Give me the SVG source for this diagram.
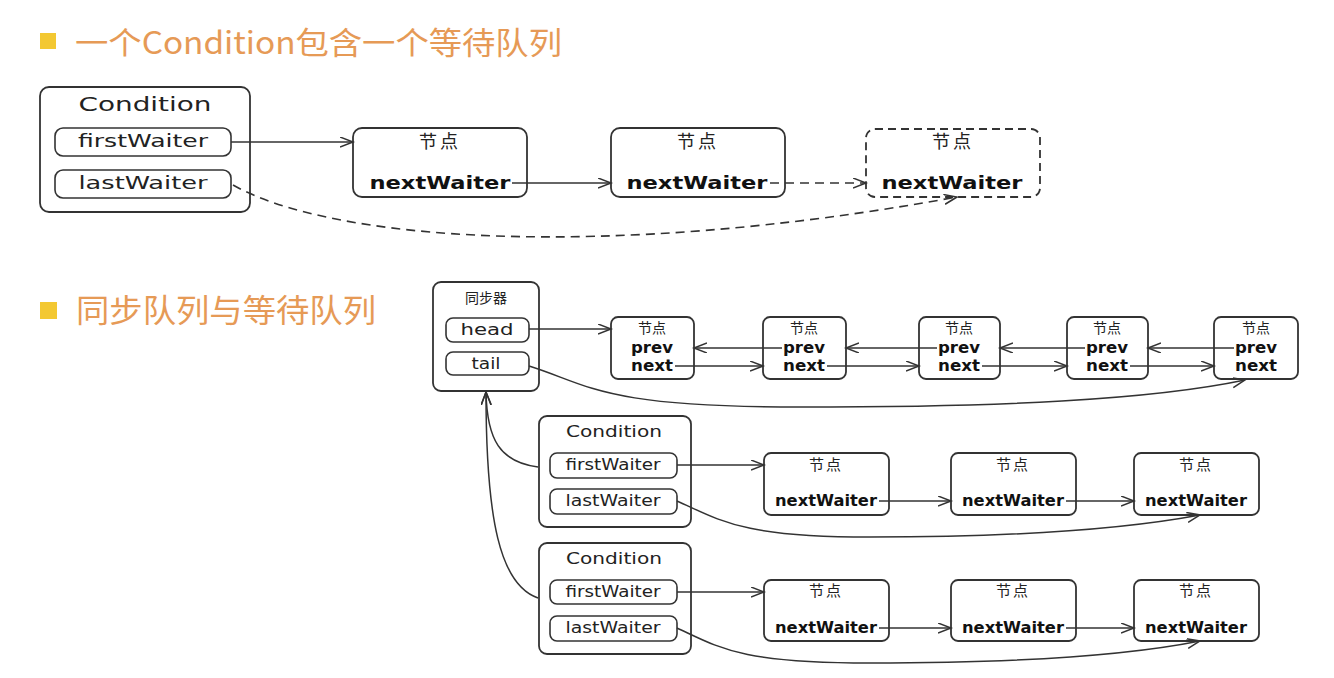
<svg xmlns="http://www.w3.org/2000/svg" width="1334" height="678" viewBox="0 0 1334 678">
<defs>
<marker id="arr" markerUnits="userSpaceOnUse" markerWidth="16" markerHeight="12" refX="13" refY="5" orient="auto">
<path d="M0,0 L13,5 L0,10" fill="none" stroke="#333" stroke-width="1.5"/>
</marker>
</defs>
<style>
.box{fill:#fff;stroke:#333;stroke-width:1.8}
.dbox{fill:#fff;stroke:#333;stroke-width:1.8;stroke-dasharray:8 5}
.pill{fill:#fff;stroke:#333;stroke-width:1.6}
.ln{fill:none;stroke:#333;stroke-width:1.5;marker-end:url(#arr)}
.dl{fill:none;stroke:#333;stroke-width:1.6;stroke-dasharray:9 6;marker-end:url(#arr)}
.t{font-family:"DejaVu Sans","Liberation Sans",sans-serif;fill:#222;text-anchor:middle}
.b{font-family:"DejaVu Sans","Liberation Sans",sans-serif;font-weight:bold;fill:#111;text-anchor:middle}
.cj{font-family:"Noto Sans CJK SC",sans-serif;fill:#222;text-anchor:middle}
.title{font-family:"Noto Sans CJK SC",sans-serif;fill:#E69A56}
</style>
<rect width="1334" height="678" fill="#fff"/>

<g id="title1">
<rect x="40" y="33" width="16" height="16" fill="#F3C832"/>
<text class="title" x="75" y="54" font-size="31" textLength="487" lengthAdjust="spacingAndGlyphs">一个Condition包含一个等待队列</text>
</g>
<g id="title2">
<rect x="40" y="302" width="17" height="17" fill="#F3C832"/>
<text class="title" x="76" y="322" font-size="32" textLength="300" lengthAdjust="spacingAndGlyphs">同步队列与等待队列</text>
</g>

<g id="condition-top">
<rect class="box" x="40" y="87" width="210" height="125" rx="9"/>
<text class="t" x="145" y="111" font-size="19" textLength="133" lengthAdjust="spacingAndGlyphs">Condition</text>
<rect class="pill" x="55" y="128" width="176" height="28" rx="8"/>
<text class="t" x="143" y="147" font-size="18" textLength="130" lengthAdjust="spacingAndGlyphs">firstWaiter</text>
<rect class="pill" x="55" y="170" width="176" height="28" rx="8"/>
<text class="t" x="143" y="189" font-size="18" textLength="129" lengthAdjust="spacingAndGlyphs">lastWaiter</text>
</g>

<g id="top-node1">
<rect class="box" x="353" y="128" width="174" height="69" rx="9"/>
<text class="cj" x="440" y="148" font-size="18" letter-spacing="3">节点</text>
<text class="b" x="440" y="189" font-size="18" textLength="141" lengthAdjust="spacingAndGlyphs">nextWaiter</text>
</g>
<g id="top-node2">
<rect class="box" x="611" y="128" width="174" height="69" rx="9"/>
<text class="cj" x="698" y="148" font-size="18" letter-spacing="3">节点</text>
<text class="b" x="697" y="189" font-size="18" textLength="141" lengthAdjust="spacingAndGlyphs">nextWaiter</text>
</g>
<g id="top-node3">
<rect class="dbox" x="866" y="129" width="174" height="68" rx="9"/>
<text class="cj" x="953" y="148" font-size="18" letter-spacing="3">节点</text>
<text class="b" x="952" y="189" font-size="18" textLength="141" lengthAdjust="spacingAndGlyphs">nextWaiter</text>
</g>

<g id="sync">
<rect class="box" x="433" y="282" width="106" height="109" rx="8"/>
<text class="cj" x="486" y="303" font-size="14">同步器</text>
<rect class="pill" x="446" y="318" width="83" height="24" rx="7"/>
<text class="t" x="487" y="335" font-size="16" textLength="53" lengthAdjust="spacingAndGlyphs">head</text>
<rect class="pill" x="446" y="352" width="83" height="23" rx="7"/>
<text class="t" x="486" y="369" font-size="16" textLength="29" lengthAdjust="spacingAndGlyphs">tail</text>
</g>

<g id="sync-node1">
<rect class="box" x="611" y="317" width="83" height="62" rx="7"/>
<text class="cj" x="652" y="333" font-size="14">节点</text>
<text class="b" x="652" y="353" font-size="15" textLength="42" lengthAdjust="spacingAndGlyphs">prev</text>
<text class="b" x="652" y="371" font-size="15" textLength="42" lengthAdjust="spacingAndGlyphs">next</text>
</g>
<g id="sync-node2">
<rect class="box" x="763" y="317" width="83" height="62" rx="7"/>
<text class="cj" x="804" y="333" font-size="14">节点</text>
<text class="b" x="804" y="353" font-size="15" textLength="42" lengthAdjust="spacingAndGlyphs">prev</text>
<text class="b" x="804" y="371" font-size="15" textLength="42" lengthAdjust="spacingAndGlyphs">next</text>
</g>
<g id="sync-node3">
<rect class="box" x="919" y="317" width="81" height="62" rx="7"/>
<text class="cj" x="959" y="333" font-size="14">节点</text>
<text class="b" x="959" y="353" font-size="15" textLength="42" lengthAdjust="spacingAndGlyphs">prev</text>
<text class="b" x="959" y="371" font-size="15" textLength="42" lengthAdjust="spacingAndGlyphs">next</text>
</g>
<g id="sync-node4">
<rect class="box" x="1067" y="317" width="81" height="62" rx="7"/>
<text class="cj" x="1107" y="333" font-size="14">节点</text>
<text class="b" x="1107" y="353" font-size="15" textLength="42" lengthAdjust="spacingAndGlyphs">prev</text>
<text class="b" x="1107" y="371" font-size="15" textLength="42" lengthAdjust="spacingAndGlyphs">next</text>
</g>
<g id="sync-node5">
<rect class="box" x="1214" y="317" width="84" height="62" rx="7"/>
<text class="cj" x="1256" y="333" font-size="14">节点</text>
<text class="b" x="1256" y="353" font-size="15" textLength="42" lengthAdjust="spacingAndGlyphs">prev</text>
<text class="b" x="1256" y="371" font-size="15" textLength="42" lengthAdjust="spacingAndGlyphs">next</text>
</g>

<g id="condition-a">
<rect class="box" x="539" y="416" width="152" height="111" rx="8"/>
<text class="t" x="614" y="437" font-size="16" textLength="96" lengthAdjust="spacingAndGlyphs">Condition</text>
<rect class="pill" x="550" y="453" width="127" height="25" rx="7"/>
<text class="t" x="613" y="470" font-size="15" textLength="95" lengthAdjust="spacingAndGlyphs">firstWaiter</text>
<rect class="pill" x="550" y="489" width="127" height="25" rx="7"/>
<text class="t" x="613" y="506" font-size="15" textLength="95" lengthAdjust="spacingAndGlyphs">lastWaiter</text>
</g>
<g id="cond-a-node1">
<rect class="box" x="764" y="453" width="125" height="62" rx="7"/>
<text class="cj" x="826" y="470" font-size="15" letter-spacing="2">节点</text>
<text class="b" x="826" y="506" font-size="15" textLength="102" lengthAdjust="spacingAndGlyphs">nextWaiter</text>
</g>
<g id="cond-a-node2">
<rect class="box" x="951" y="453" width="125" height="62" rx="7"/>
<text class="cj" x="1013" y="470" font-size="15" letter-spacing="2">节点</text>
<text class="b" x="1013" y="506" font-size="15" textLength="102" lengthAdjust="spacingAndGlyphs">nextWaiter</text>
</g>
<g id="cond-a-node3">
<rect class="box" x="1134" y="453" width="125" height="62" rx="7"/>
<text class="cj" x="1196" y="470" font-size="15" letter-spacing="2">节点</text>
<text class="b" x="1196" y="506" font-size="15" textLength="102" lengthAdjust="spacingAndGlyphs">nextWaiter</text>
</g>

<g id="condition-b">
<rect class="box" x="539" y="543" width="152" height="111" rx="8"/>
<text class="t" x="614" y="564" font-size="16" textLength="96" lengthAdjust="spacingAndGlyphs">Condition</text>
<rect class="pill" x="550" y="580" width="127" height="24" rx="7"/>
<text class="t" x="613" y="597" font-size="15" textLength="95" lengthAdjust="spacingAndGlyphs">firstWaiter</text>
<rect class="pill" x="550" y="616" width="127" height="25" rx="7"/>
<text class="t" x="613" y="633" font-size="15" textLength="95" lengthAdjust="spacingAndGlyphs">lastWaiter</text>
</g>
<g id="cond-b-node1">
<rect class="box" x="764" y="580" width="125" height="61" rx="7"/>
<text class="cj" x="826" y="596" font-size="15" letter-spacing="2">节点</text>
<text class="b" x="826" y="633" font-size="15" textLength="102" lengthAdjust="spacingAndGlyphs">nextWaiter</text>
</g>
<g id="cond-b-node2">
<rect class="box" x="951" y="580" width="125" height="61" rx="7"/>
<text class="cj" x="1013" y="596" font-size="15" letter-spacing="2">节点</text>
<text class="b" x="1013" y="633" font-size="15" textLength="102" lengthAdjust="spacingAndGlyphs">nextWaiter</text>
</g>
<g id="cond-b-node3">
<rect class="box" x="1134" y="580" width="125" height="61" rx="7"/>
<text class="cj" x="1196" y="596" font-size="15" letter-spacing="2">节点</text>
<text class="b" x="1196" y="633" font-size="15" textLength="102" lengthAdjust="spacingAndGlyphs">nextWaiter</text>
</g>

<g id="connectors">
<path class="ln" d="M231 142 L353 142"/>
<path class="ln" d="M512 183 L611 183"/>
<path class="dl" d="M770 183 L866 183"/>
<path class="dl" d="M233 185 C 330 240, 600 262, 957 197"/>

<path class="ln" d="M529 329 L611 329"/>
<path class="ln" d="M675 366 L763 366"/>
<path class="ln" d="M827 366 L919 366"/>
<path class="ln" d="M982 366 L1067 366"/>
<path class="ln" d="M1130 366 L1214 366"/>
<path class="ln" d="M782 348 L694 348"/>
<path class="ln" d="M937 348 L846 348"/>
<path class="ln" d="M1085 348 L1000 348"/>
<path class="ln" d="M1234 348 L1148 348"/>
<path class="ln" d="M529 366 C 590 385, 600 407, 800 407 C 1000 407, 1150 400, 1245 380"/>

<path class="ln" d="M538 467 C 500 462, 487 440, 486 392"/>
<path class="ln" d="M538 598 C 500 585, 486 520, 486 392"/>

<path class="ln" d="M677 465 L764 465"/>
<path class="ln" d="M879 501 L951 501"/>
<path class="ln" d="M1066 501 L1134 501"/>
<path class="ln" d="M677 501 C 720 520, 740 537, 870 537 C 1000 537, 1120 530, 1200 515"/>

<path class="ln" d="M677 592 L764 592"/>
<path class="ln" d="M879 628 L951 628"/>
<path class="ln" d="M1066 628 L1134 628"/>
<path class="ln" d="M677 628 C 720 648, 740 663, 870 663 C 1000 663, 1120 657, 1200 641"/>
</g>
</svg>
